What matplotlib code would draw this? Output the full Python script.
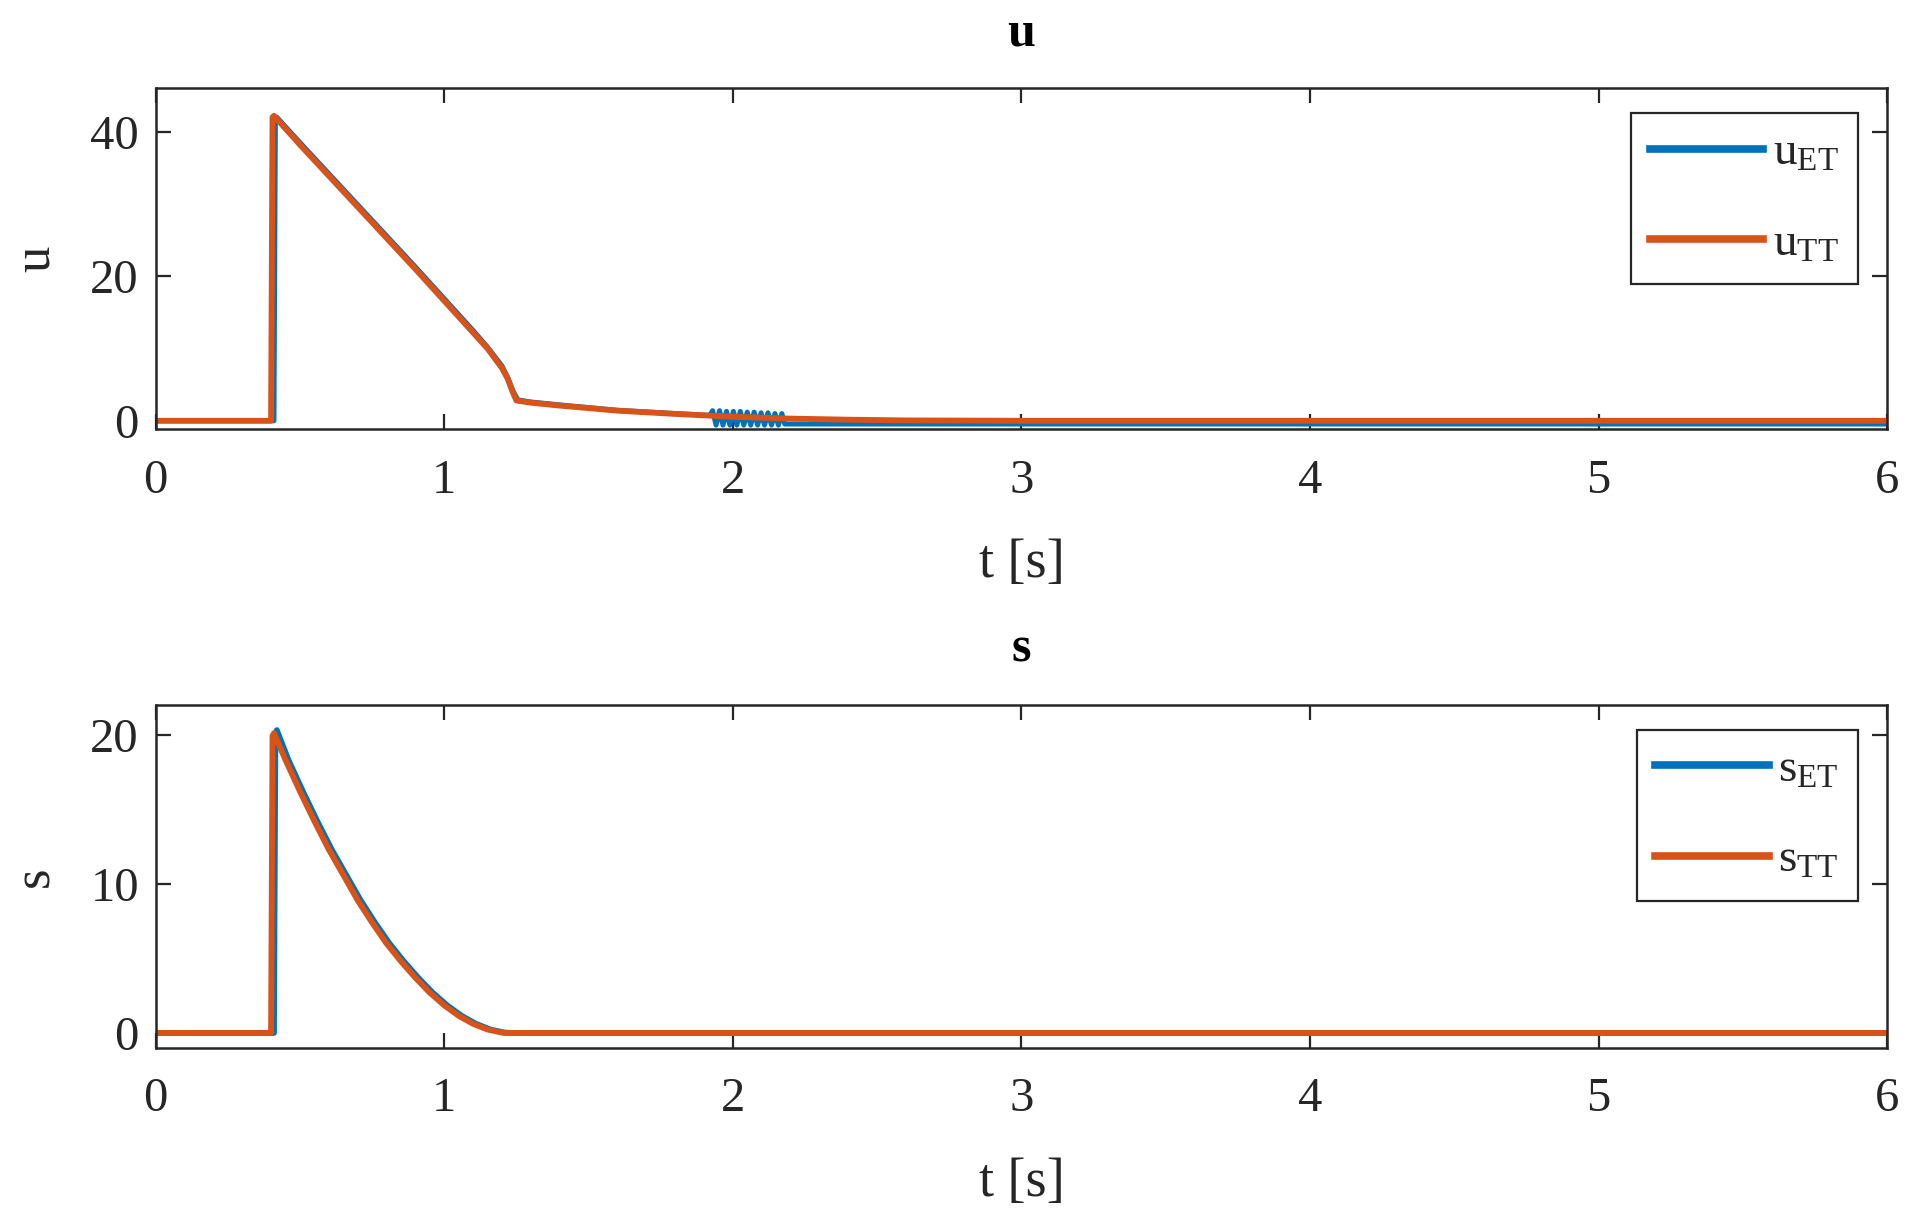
import matplotlib
matplotlib.use("Agg")
import matplotlib.pyplot as plt

plt.rcParams['font.family'] = ['Liberation Serif', 'DejaVu Serif']
plt.rcParams['mathtext.fontset'] = 'custom'
plt.rcParams['mathtext.rm'] = 'Liberation Serif'
plt.rcParams['mathtext.it'] = 'Liberation Serif'

BLUE = '#0072BD'
ORANGE = '#D95319'
GREY = '#262626'

# control signal u, time triggered
t_u_tt = [0, 0.40, 0.405, 0.41, 0.5, 0.6, 0.7, 0.8, 0.9, 1.0, 1.1, 1.15, 1.2, 1.22, 1.235,
          1.25, 1.3, 1.4, 1.6, 1.8, 2.0, 2.2, 2.4, 2.6, 3.0, 6.0]
u_tt = [0, 0, 42.0, 42.2, 38.2, 33.9, 29.6, 25.3, 21.0, 16.6, 12.2, 10.0, 7.3, 5.8, 4.2,
        2.8, 2.5, 2.1, 1.4, 0.95, 0.55, 0.3, 0.15, 0.05, 0.0, 0.0]

# control signal u, event triggered (chatters around t = 2)
t_u_et = [0, 0.41, 0.415, 0.42, 0.5, 0.6, 0.7, 0.8, 0.9, 1.0, 1.1, 1.15, 1.2, 1.22, 1.24,
          1.255, 1.3, 1.4, 1.6, 1.8, 1.92,
          1.93, 1.942, 1.954, 1.966, 1.978, 1.990, 2.002, 2.014, 2.026, 2.038, 2.050,
          2.062, 2.074, 2.086, 2.098, 2.110, 2.122, 2.134, 2.146, 2.158, 2.170,
          2.18, 2.4, 3.0, 6.0]
u_et = [0, 0, 41.8, 42.0, 38.5, 34.2, 29.9, 25.6, 21.3, 16.9, 12.5, 10.2, 7.6, 6.0, 4.0,
        2.9, 2.6, 2.2, 1.45, 1.0, 0.75,
        1.4, -0.6, 1.4, -0.6, 1.3, -0.6, 1.3, -0.6, 1.3, -0.6, 1.2, -0.6, 1.2, -0.6,
        1.1, -0.6, 1.1, -0.6, 1.0, -0.6, 1.0,
        -0.45, -0.45, -0.45, -0.45]

# sliding variable s
t_s_tt = [0, 0.40, 0.405, 0.41, 0.45, 0.5, 0.55, 0.6, 0.65, 0.7, 0.75, 0.8, 0.85, 0.9,
          0.95, 1.0, 1.05, 1.1, 1.15, 1.2, 1.22, 6.0]
s_tt = [0, 0, 19.9, 20.1, 18.3, 16.2, 14.2, 12.3, 10.6, 8.9, 7.4, 6.0, 4.8, 3.7,
        2.7, 1.85, 1.15, 0.61, 0.23, 0.02, 0.0, 0.0]

t_s_et = [0, 0.41, 0.415, 0.42, 0.46, 0.51, 0.56, 0.61, 0.66, 0.71, 0.76, 0.81, 0.86,
          0.91, 0.96, 1.01, 1.06, 1.11, 1.16, 1.21, 1.23, 6.0]
s_et = [0, 0, 20.0, 20.3, 18.3, 16.2, 14.2, 12.3, 10.6, 8.9, 7.4, 6.0, 4.8, 3.7,
        2.7, 1.85, 1.15, 0.61, 0.23, 0.02, 0.0, 0.0]

xticks = [0, 1, 2, 3, 4, 5, 6]

fig = plt.figure(figsize=(19.12, 12.27), dpi=100)
ax1 = fig.add_axes([0.0814, 0.650, 0.9056, 0.278])
ax2 = fig.add_axes([0.0814, 0.146, 0.9056, 0.2796])


def style(ax, yticks, ylim, name):
    ax.set_xlim(0, 6)
    ax.set_ylim(*ylim)
    ax.set_xticks(xticks)
    ax.set_yticks(yticks)
    ax.tick_params(direction='in', length=11, width=1.6, colors=GREY,
                   labelsize=35, top=True, right=True)
    ax.tick_params(axis='x', pad=21)
    ax.tick_params(axis='y', pad=12)
    for sp in ax.spines.values():
        sp.set_linewidth(1.8)
        sp.set_color(GREY)
    ax.set_xlabel('t [s]', fontsize=39, color=GREY, labelpad=26)
    ax.set_ylabel(name, fontsize=38, color=GREY, labelpad=22)
    ax.set_title(name, fontsize=36, fontweight='bold', pad=31)


ax1.plot(t_u_et, u_et, color=BLUE, lw=3.6, label=r'u$_{\mathrm{ET}}$')
ax1.plot(t_u_tt, u_tt, color=ORANGE, lw=4.2, label=r'u$_{\mathrm{TT}}$')
style(ax1, [0, 20, 40], (-1.2, 46), 'u')

ax2.plot(t_s_et, s_et, color=BLUE, lw=4.2, label=r's$_{\mathrm{ET}}$')
ax2.plot(t_s_tt, s_tt, color=ORANGE, lw=4.2, label=r's$_{\mathrm{TT}}$')
style(ax2, [0, 10, 20], (-1.0, 22), 's')

for ax in (ax1, ax2):
    leg = ax.legend(loc='upper right', bbox_to_anchor=(0.983, 0.927), borderaxespad=0,
                    fontsize=34, fancybox=False, framealpha=1, edgecolor=GREY,
                    handlelength=2.4, handletextpad=0.2, labelspacing=1.0,
                    borderpad=0.4)
    leg.get_frame().set_linewidth(1.6)
    for line in leg.get_lines():
        line.set_linewidth(5.5)
    for txt in leg.get_texts():
        txt.set_color(GREY)

fig.savefig('out.png', dpi=100)
